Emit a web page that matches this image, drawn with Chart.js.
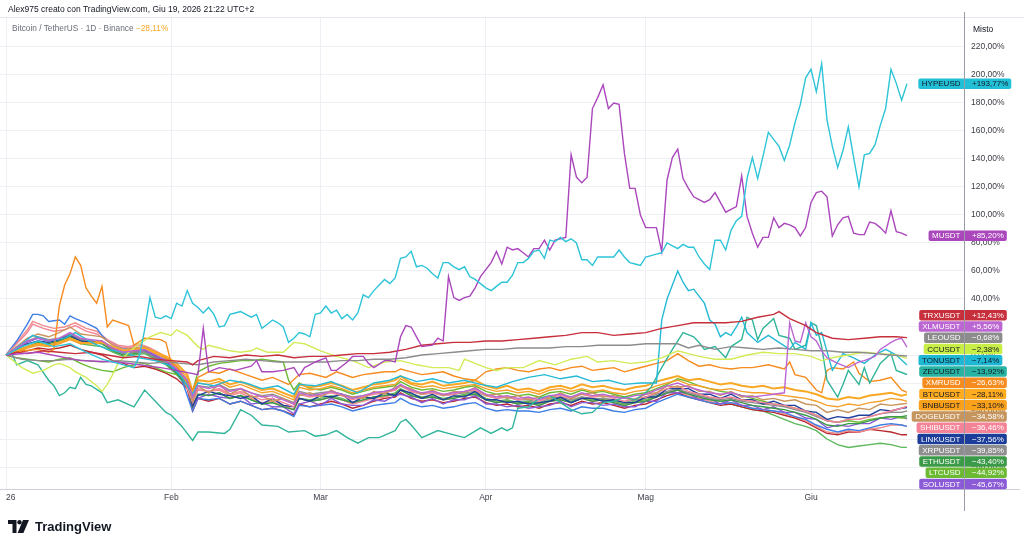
<!DOCTYPE html>
<html><head><meta charset="utf-8">
<script src="https://cdn.jsdelivr.net/npm/chart.js@4.4.1/dist/chart.umd.min.js"></script>
<style>
html,body{margin:0;padding:0;background:#fff;width:1024px;height:546px;overflow:hidden;font-family:"Liberation Sans",Arial,sans-serif;}
#wrap{position:relative;width:1024px;height:546px;}
canvas{position:absolute;left:0;top:0;}
#hdr{position:absolute;left:8px;top:4px;font-size:8.5px;line-height:10px;color:#131722;white-space:nowrap;}
#leg{position:absolute;left:12px;top:23px;font-size:8.3px;line-height:10px;color:#6a6d78;white-space:nowrap;}
#leg span{color:#f5a623;}
#logo{position:absolute;left:8px;top:519px;display:flex;align-items:center;gap:6px;font-weight:bold;font-size:13px;color:#131722;}
</style></head>
<body><div id="wrap">
<canvas id="c" width="1024" height="546"></canvas>
<div id="hdr">Alex975 creato con TradingView.com, Giu 19, 2026 21:22 UTC+2</div>
<div id="leg">Bitcoin / TetherUS · 1D · Binance <span>−28,11%</span></div>
<div id="logo"><svg width="21" height="13" viewBox="0 0 21 13"><path d="M0 0h8.5v13H4.5V4H0z" fill="#131722"/><circle cx="11.5" cy="2.2" r="2.2" fill="#131722"/><path d="M15 0h6l-5.6 13H9.6z" fill="#131722"/></svg><span>TradingView</span></div>
</div>
<script>
// time axis: day index from 1 Jan 2026
const monthDays = [0, 31, 59, 90, 120, 151];
const monthLabels = ['26', 'Feb', 'Mar', 'Apr', 'Mag', 'Giu'];
const yTicks = [-80, -60, -40, -20, 0, 20, 40, 60, 80, 100, 120, 140, 160, 180, 200, 220];

// series: [day, % change]
const HYPEUSD = [[0,0],[3,6],[6,10],[9,6],[12,8],[15,2],[18,-3],[21,-6],[24,-9],[25,-1],[26,18],[27,41],[28,27],[29,26],[30,28],[31,26],[32,37],[33,35],[34,46],[35,37],[36,34],[37,30],[38,34],[39,29],[40,20],[41,21],[42,29],[43,30],[44,31],[45,29],[46,27],[47,29],[48,19],[49,22],[50,25],[51,23],[52,20],[53,9],[54,12],[55,16],[56,15],[57,13],[58,29],[59,30],[60,35],[61,30],[62,32],[63,26],[64,29],[65,25],[66,30],[67,43],[68,41],[69,46],[70,50],[71,54],[72,51],[73,55],[74,69],[75,70],[76,74],[77,63],[78,64],[79,62],[80,58],[81,55],[82,66],[83,66],[84,63],[85,61],[86,63],[87,56],[88,54],[89,51],[90,48],[91,46],[92,49],[93,52],[94,52],[95,57],[96,66],[97,66],[98,69],[99,74],[100,75],[101,69],[102,82],[103,81],[104,84],[105,81],[106,83],[107,80],[108,68],[109,68],[110,64],[111,70],[112,70],[113,70],[114,70],[115,75],[116,70],[117,66],[118,65],[119,64],[120,70],[121,71],[122,72],[123,73],[124,80],[125,78],[126,76],[127,79],[128,77],[129,77],[130,70],[131,65],[132,61],[133,82],[134,82],[135,75],[136,89],[137,96],[138,99],[139,126],[140,141],[141,126],[142,142],[143,159],[144,154],[145,149],[146,139],[147,150],[148,166],[149,179],[150,198],[151,204],[152,188],[153,208],[154,168],[155,149],[156,134],[157,146],[158,163],[159,141],[160,120],[161,143],[162,144],[163,150],[164,164],[165,176],[166,204],[167,194],[168,182],[169,193.77]];
const MUSDT = [[0,0],[6,2],[14,-4],[21,-5],[29,-9],[32,-11],[36,-14],[37,19],[38,-12],[40,-9],[43,-11],[46,-8],[47,-4],[48,-12],[50,-12],[52,-11],[54,-9],[55,-15],[56,-9],[57,-7],[58,-5],[60,-2],[61,-11],[62,-11],[64,-5],[65,-1],[67,-1],[68,-6],[69,-9],[71,-4],[72,-4],[73,-5],[74,13],[75,21],[76,20],[77,13],[78,6],[80,7],[81,12],[82,10],[83,56],[84,41],[85,39],[86,41],[87,42],[88,48],[89,56],[91,66],[92,74],[93,65],[94,77],[95,75],[96,76],[97,73],[98,70],[99,76],[100,76],[101,82],[102,75],[103,82],[104,83],[105,84],[106,143],[107,127],[108,123],[109,127],[110,176],[111,184],[112,193],[113,176],[114,180],[115,179],[116,144],[117,119],[118,119],[119,100],[120,91],[121,91],[122,91],[123,74],[124,125],[125,141],[126,147],[127,126],[128,119],[129,113],[130,111],[131,109],[132,111],[133,116],[134,109],[135,102],[136,104],[137,106],[138,128],[139,99],[140,87],[141,77],[142,84],[143,84],[144,98],[145,91],[146,94],[147,93],[148,91],[149,85],[150,91],[151,109],[152,116],[153,117],[154,113],[155,85],[156,93],[157,98],[158,99],[159,87],[160,86],[161,86],[162,95],[163,94],[164,91],[165,87],[166,103],[167,88],[168,87],[169,85.2]];
const TRXUSDT = [[0,0],[2,2],[4,1],[7,3],[10,2],[13,1],[16,2],[19,0],[22,-2],[25,-1],[28,-3],[31,-4],[34,-5],[35,-7],[36,-4],[39,-1],[42,-2],[45,0],[48,-1],[51,0],[54,-2],[57,-1],[60,-1],[63,0],[66,1],[69,1],[72,2],[75,4],[78,7],[81,8],[84,9],[87,9],[90,10],[93,10],[96,11],[99,12],[102,13],[105,14],[108,16],[111,16],[114,14],[117,15],[120,16],[123,19],[126,21],[129,23],[132,23],[135,23],[138,24],[141,27],[144,29],[145,31],[147,26],[150,21],[152,16],[155,12],[158,11],[161,12],[164,13],[167,13],[169,12.43]];
const XLMUSDT = [[0,0],[2,5],[4,10],[6,12],[8,10],[10,12],[12,16],[14,12],[16,11],[18,10],[20,5],[22,2],[24,3],[26,4],[28,0],[30,-4],[32,-10],[34,-18],[35,-30],[36,-22],[38,-24],[40,-22],[42,-26],[44,-24],[46,-27],[48,-30],[50,-29],[52,-32],[54,-35],[55,-27],[57,-29],[59,-28],[61,-26],[63,-28],[65,-31],[67,-29],[69,-27],[71,-26],[73,-24],[74,-21],[76,-25],[78,-27],[80,-26],[82,-28],[84,-27],[86,-26],[88,-24],[90,-28],[92,-30],[94,-29],[96,-31],[98,-30],[100,-32],[102,-29],[104,-28],[106,-30],[108,-27],[110,-29],[112,-28],[114,-30],[116,-31],[118,-29],[120,-28],[122,-25],[124,-22],[126,-20],[128,-23],[130,-25],[132,-27],[134,-28],[136,-27],[138,-29],[140,-30],[142,-29],[144,-28],[146,-27],[147,23],[148,10],[149,9],[150,23],[151,13],[152,10],[153,3],[154,-2],[155,-4],[156,-6],[158,-9],[160,-5],[161,-4],[163,-1],[164,4],[166,9],[167,11],[168,12],[169,5.56]];
const LEOUSD = [[0,0],[3,-3],[6,-4],[9,-4],[12,-3],[15,-4],[18,-5],[21,-4],[24,-5],[27,-6],[30,-5],[33,-6],[36,-7],[39,-5],[42,-4],[45,-3],[48,-4],[51,-5],[54,-5],[57,-5],[60,-5],[63,-4],[66,-4],[69,-3],[72,-3],[75,-2],[78,0],[81,1],[84,2],[87,3],[90,4],[93,4],[96,5],[99,5],[102,5],[105,6],[108,6],[111,7],[114,7],[117,7],[120,8],[123,8],[126,8],[128,5],[130,7],[133,4],[136,6],[139,5],[142,4],[145,5],[148,4],[151,3],[154,3],[157,2],[160,2],[163,1],[166,0],[169,-0.68]];
const CCUSDT = [[0,0],[2,-6],[3,-9],[5,-13],[7,-11],[9,-7],[10,-6],[12,-9],[13,-12],[15,-16],[17,-22],[18,-26],[19,-21],[20,-14],[21,-6],[23,2],[25,8],[27,13],[29,16],[31,14],[32,18],[34,14],[36,6],[37,4],[38,7],[40,5],[42,3],[44,2],[46,3],[47,5],[49,2],[52,2],[54,9],[56,8],[59,3],[62,-1],[65,-4],[68,-9],[71,-5],[74,-4],[77,-7],[80,-9],[83,-9],[85,-11],[86,-3],[88,-6],[90,-9],[92,-11],[94,-9],[97,-9],[100,-4],[103,-7],[106,-3],[109,-1],[111,-5],[114,-4],[117,-6],[120,-5],[123,-2],[126,3],[128,1],[130,-1],[133,-3],[136,-3],[139,0],[142,2],[145,1],[148,1],[151,-1],[153,-4],[155,-2],[158,0],[161,2],[164,1],[167,0],[169,-2.38]];
const TONUSDT = [[0,0],[3,8],[5,14],[8,10],[11,12],[13,16],[16,9],[19,4],[22,2],[25,-2],[28,-4],[31,-8],[33,-16],[35,-28],[36,-20],[39,-22],[42,-18],[45,-20],[48,-24],[51,-22],[54,-28],[55,-21],[58,-22],[61,-19],[64,-24],[66,-27],[69,-20],[72,-18],[74,-15],[77,-19],[80,-17],[83,-20],[86,-18],[89,-21],[92,-23],[95,-19],[98,-16],[101,-14],[104,-17],[107,-15],[110,-19],[113,-18],[116,-21],[119,-20],[122,-20],[123,25],[124,40],[125,50],[126,60],[127,52],[128,46],[129,47],[131,37],[132,25],[133,22],[134,13],[135,16],[136,14],[137,20],[138,27],[139,16],[141,9],[143,14],[145,9],[147,4],[148,9],[150,4],[151,23],[152,14],[153,16],[155,-11],[157,1],[159,-2],[161,-6],[163,0],[165,4],[167,0],[169,-7.14]];
const ZECUSDT = [[0,0],[1,2],[2,-7],[4,-4],[6,-7],[8,-18],[9,-22],[10,-29],[11,-27],[12,-23],[13,-24],[14,-16],[15,-21],[16,-22],[18,-27],[19,-34],[21,-32],[24,-37],[26,-25],[28,-33],[30,-41],[31,-43],[33,-51],[35,-61],[36,-55],[38,-55],[41,-56],[42,-53],[44,-39],[46,-43],[48,-50],[51,-51],[53,-55],[56,-54],[58,-58],[60,-57],[62,-54],[64,-59],[66,-63],[68,-59],[70,-59],[73,-54],[74,-48],[75,-46],[76,-50],[78,-59],[81,-54],[84,-57],[86,-59],[89,-52],[91,-56],[93,-52],[94,-54],[95,-52],[96,-38],[98,-37],[100,-31],[102,-29],[104,-34],[106,-39],[108,-42],[110,-41],[112,-34],[114,-33],[116,-30],[118,-32],[120,-27],[121,-23],[123,-9],[125,4],[127,16],[129,13],[130,9],[131,4],[133,6],[135,-2],[136,6],[138,11],[139,27],[140,25],[141,11],[142,19],[144,26],[145,14],[147,12],[148,4],[150,7],[151,23],[152,21],[153,6],[154,-18],[156,-30],[157,-21],[158,-11],[159,-16],[160,-21],[161,-9],[162,-20],[164,-6],[166,1],[167,-11],[169,-13.92]];
const XMRUSD = [[0,0],[3,3],[6,4],[8,2],[9,4],[10,35],[11,50],[12,58],[13,70],[14,64],[15,48],[16,42],[17,37],[18,49],[19,20],[20,25],[23,21],[24,7],[26,12],[29,11],[30,9],[31,-6],[32,-8],[33,-14],[35,-25],[36,-16],[38,-12],[40,-13],[42,-10],[45,-14],[48,-18],[50,-16],[53,-21],[55,-14],[57,-13],[60,-16],[62,-12],[65,-16],[67,-14],[69,-13],[71,-12],[73,-12],[74,-10],[76,-12],[78,-14],[80,-13],[82,-12],[84,-15],[86,-17],[88,-18],[90,-12],[92,-10],[94,-9],[96,-11],[98,-12],[100,-10],[102,-9],[104,-11],[106,-9],[108,-8],[110,-11],[112,-10],[114,-9],[116,-12],[118,-10],[120,-8],[122,-6],[124,-4],[126,1],[128,-4],[130,-8],[132,-7],[134,-9],[136,-10],[138,-9],[140,-9],[143,-7],[146,-10],[147,-5],[148,-14],[150,-16],[152,-25],[153,-27],[154,-11],[155,-9],[157,-10],[159,-5],[160,-13],[162,-19],[164,-18],[166,-16],[168,-25],[169,-26.63]];
const BTCUSDT = [[0,0],[2,3],[4,6],[6,8],[8,7],[10,9],[12,12],[14,9],[16,8],[18,9],[20,6],[22,3],[24,4],[26,5],[28,2],[30,-1],[32,-6],[34,-14],[35,-26],[36,-18],[38,-19],[40,-17],[42,-21],[44,-19],[46,-22],[48,-25],[50,-24],[52,-27],[54,-30],[55,-21],[57,-23],[59,-22],[61,-20],[63,-22],[65,-25],[67,-23],[69,-21],[71,-20],[73,-18],[74,-15],[76,-20],[78,-21],[80,-19],[82,-22],[84,-21],[86,-20],[88,-18],[90,-22],[92,-24],[94,-22],[96,-25],[98,-24],[100,-26],[102,-23],[104,-22],[106,-24],[108,-21],[110,-23],[112,-22],[114,-24],[116,-25],[118,-23],[120,-22],[122,-19],[124,-17],[126,-15],[128,-18],[130,-17],[132,-19],[134,-21],[136,-20],[138,-22],[140,-23],[142,-22],[144,-24],[146,-23],[148,-25],[150,-26],[152,-28],[154,-31],[156,-32],[158,-30],[160,-31],[162,-29],[164,-28],[166,-27],[168,-29],[169,-28.11]];
const BNBUSDT = [[0,0],[2,2],[4,5],[6,7],[8,6],[10,8],[12,11],[14,8],[16,9],[18,10],[20,5],[22,2],[24,3],[26,4],[28,1],[30,-2],[32,-8],[34,-16],[35,-28],[36,-20],[38,-21],[40,-19],[42,-23],[44,-21],[46,-24],[48,-27],[50,-26],[52,-29],[54,-32],[55,-23],[57,-25],[59,-24],[61,-22],[63,-24],[65,-27],[67,-25],[69,-23],[71,-22],[73,-21],[74,-17],[76,-21],[78,-23],[80,-22],[82,-24],[84,-23],[86,-22],[88,-21],[90,-24],[92,-26],[94,-25],[96,-27],[98,-26],[100,-28],[102,-25],[104,-24],[106,-26],[108,-24],[110,-26],[112,-25],[114,-27],[116,-28],[118,-26],[120,-25],[122,-22],[124,-20],[126,-18],[128,-21],[130,-22],[132,-24],[134,-25],[136,-24],[138,-26],[140,-27],[142,-27],[144,-28],[146,-29],[148,-30],[150,-31],[152,-33],[154,-36],[156,-37],[158,-35],[160,-36],[162,-34],[164,-33],[166,-31],[168,-32],[169,-33.1]];
const DOGEUSDT = [[0,0],[2,6],[4,12],[6,15],[8,13],[10,16],[12,20],[14,15],[16,14],[18,13],[20,7],[22,4],[24,5],[26,6],[28,2],[30,-3],[32,-10],[34,-20],[35,-33],[36,-22],[38,-27],[40,-21],[42,-28],[44,-24],[46,-30],[48,-29],[50,-33],[52,-31],[54,-35],[55,-29],[57,-27],[59,-30],[61,-25],[63,-29],[65,-30],[67,-31],[69,-26],[71,-28],[73,-23],[74,-22],[76,-24],[78,-28],[80,-25],[82,-29],[84,-26],[86,-27],[88,-23],[90,-29],[92,-28],[94,-31],[96,-29],[98,-32],[100,-30],[102,-31],[104,-27],[106,-31],[108,-28],[110,-27],[112,-30],[114,-29],[116,-31],[118,-32],[120,-28],[122,-27],[124,-22],[126,-23],[128,-22],[130,-26],[132,-26],[134,-29],[136,-26],[138,-30],[140,-29],[142,-32],[144,-31],[146,-33],[148,-32],[150,-35],[152,-36],[154,-41],[156,-39],[158,-41],[160,-38],[162,-39],[164,-35],[166,-36],[168,-35],[169,-34.58]];
const SHIBUSDT = [[0,0],[2,8],[4,16],[5,22],[7,19],[9,17],[11,18],[13,21],[15,17],[17,15],[19,10],[21,6],[23,5],[25,7],[27,4],[29,0],[31,-5],[33,-14],[35,-34],[36,-25],[38,-26],[40,-24],[42,-28],[44,-26],[46,-29],[48,-32],[50,-31],[52,-34],[54,-37],[55,-28],[57,-30],[59,-29],[61,-27],[63,-29],[65,-32],[67,-30],[69,-28],[71,-27],[73,-25],[74,-22],[76,-26],[78,-28],[80,-27],[82,-29],[84,-28],[86,-26],[88,-25],[90,-29],[92,-31],[94,-30],[96,-32],[98,-31],[100,-33],[102,-30],[104,-29],[106,-31],[108,-28],[110,-30],[112,-29],[114,-31],[116,-33],[118,-31],[120,-30],[122,-27],[124,-24],[126,-22],[128,-26],[130,-28],[132,-30],[134,-31],[136,-30],[138,-32],[140,-33],[142,-34],[144,-35],[146,-36],[148,-38],[150,-40],[152,-43],[154,-47],[156,-48],[158,-46],[160,-46],[162,-44],[164,-42],[166,-40],[168,-38],[169,-36.46]];
const LINKUSDT = [[0,0],[2,4],[4,8],[6,10],[8,9],[10,11],[12,14],[14,10],[16,9],[18,10],[20,5],[22,2],[24,3],[26,4],[28,0],[30,-4],[32,-11],[34,-20],[35,-36],[36,-29],[38,-26],[40,-28],[42,-29],[44,-31],[46,-29],[48,-35],[50,-31],[52,-36],[54,-37],[55,-31],[57,-33],[59,-29],[61,-30],[63,-28],[65,-34],[67,-30],[69,-31],[71,-27],[73,-29],[74,-25],[76,-27],[78,-31],[80,-28],[82,-32],[84,-29],[86,-30],[88,-26],[90,-32],[92,-32],[94,-34],[96,-33],[98,-35],[100,-34],[102,-33],[104,-30],[106,-34],[108,-31],[110,-31],[112,-33],[114,-32],[116,-34],[118,-34],[120,-30],[122,-30],[124,-24],[126,-24],[128,-24],[130,-28],[132,-28],[134,-31],[136,-28],[138,-32],[140,-32],[142,-35],[144,-33],[146,-36],[148,-36],[150,-40],[152,-41],[154,-46],[156,-44],[158,-45],[160,-43],[162,-43],[164,-39],[166,-40],[168,-38],[169,-37.56]];
const XRPUSDT = [[0,0],[2,5],[4,10],[6,13],[8,11],[10,12],[12,15],[14,11],[16,10],[18,9],[20,4],[22,1],[24,2],[26,2],[28,-2],[30,-5],[32,-10],[34,-18],[35,-30],[36,-22],[38,-23],[40,-21],[42,-25],[44,-24],[46,-27],[48,-29],[50,-28],[52,-31],[54,-34],[55,-26],[57,-28],[59,-27],[61,-26],[63,-28],[65,-30],[67,-29],[69,-27],[71,-26],[73,-25],[74,-22],[76,-26],[78,-28],[80,-27],[82,-29],[84,-28],[86,-27],[88,-26],[90,-29],[92,-31],[94,-30],[96,-32],[98,-32],[100,-34],[102,-31],[104,-30],[106,-32],[108,-30],[110,-31],[112,-31],[114,-32],[116,-34],[118,-32],[120,-31],[122,-28],[124,-26],[126,-24],[128,-27],[130,-29],[132,-31],[134,-32],[136,-31],[138,-33],[140,-34],[142,-35],[144,-36],[146,-37],[148,-39],[150,-41],[152,-44],[154,-47],[156,-48],[158,-46],[160,-46],[162,-44],[164,-42],[166,-41],[168,-41],[169,-39.85]];
const ETHUSDT = [[0,0],[2,3],[4,6],[6,9],[8,8],[10,10],[12,13],[14,10],[16,9],[18,8],[20,3],[22,0],[24,1],[26,2],[28,-2],[30,-6],[32,-13],[34,-22],[35,-37],[36,-28],[38,-29],[40,-27],[42,-31],[44,-29],[46,-32],[48,-35],[50,-34],[52,-37],[54,-39],[55,-31],[57,-33],[59,-32],[61,-30],[63,-32],[65,-34],[67,-32],[69,-30],[71,-29],[73,-28],[74,-25],[76,-29],[78,-31],[80,-30],[82,-32],[84,-31],[86,-29],[88,-28],[90,-32],[92,-34],[94,-33],[96,-35],[98,-34],[100,-36],[102,-33],[104,-32],[106,-34],[108,-31],[110,-33],[112,-32],[114,-34],[116,-36],[118,-34],[120,-33],[122,-30],[124,-27],[126,-25],[128,-28],[130,-30],[132,-32],[134,-33],[136,-32],[138,-34],[140,-36],[142,-37],[144,-38],[146,-39],[148,-41],[150,-43],[152,-46],[154,-50],[156,-51],[158,-49],[160,-49],[162,-47],[164,-45],[166,-44],[168,-44],[169,-43.4]];
const LTCUSD = [[0,0],[2,-2],[4,-3],[6,-4],[8,-5],[10,-3],[12,-2],[14,-6],[16,-9],[18,-11],[20,-12],[22,-9],[24,-7],[26,-6],[28,-9],[30,-12],[32,-14],[34,-18],[35,-26],[36,-12],[38,-8],[40,-6],[42,-5],[44,-4],[46,-4],[48,-3],[50,-4],[52,-5],[53,-18],[54,-25],[55,-20],[57,-24],[59,-25],[61,-23],[63,-25],[65,-28],[67,-26],[69,-24],[71,-23],[73,-22],[74,-19],[76,-23],[78,-25],[80,-24],[82,-26],[84,-25],[86,-23],[88,-22],[90,-26],[92,-28],[94,-27],[96,-29],[98,-28],[100,-30],[102,-27],[104,-26],[106,-28],[108,-25],[110,-27],[112,-26],[114,-28],[116,-30],[118,-28],[120,-27],[122,-24],[124,-21],[126,-17],[128,-19],[130,-22],[132,-24],[134,-26],[136,-27],[138,-29],[140,-31],[142,-33],[144,-35],[146,-36],[148,-38],[150,-40],[152,-43],[154,-47],[156,-48],[158,-47],[160,-48],[162,-46],[164,-45],[166,-44],[168,-45],[169,-44.92]];
const SOLUSDT = [[0,0],[2,4],[4,9],[6,12],[8,10],[10,11],[12,15],[14,11],[16,10],[18,9],[20,4],[22,1],[24,2],[26,3],[28,-1],[30,-5],[32,-12],[34,-22],[35,-38],[36,-31],[38,-28],[40,-30],[42,-31],[44,-29],[46,-35],[48,-34],[50,-37],[52,-37],[54,-42],[55,-35],[57,-33],[59,-36],[61,-31],[63,-35],[65,-36],[67,-36],[69,-32],[71,-33],[73,-29],[74,-28],[76,-30],[78,-34],[80,-31],[82,-35],[84,-32],[86,-32],[88,-29],[90,-35],[92,-35],[94,-37],[96,-36],[98,-38],[100,-37],[102,-36],[104,-33],[106,-37],[108,-34],[110,-34],[112,-36],[114,-35],[116,-37],[118,-37],[120,-33],[122,-33],[124,-27],[126,-27],[128,-27],[130,-32],[132,-31],[134,-35],[136,-32],[138,-36],[140,-36],[142,-39],[144,-37],[146,-41],[148,-41],[150,-45],[152,-46],[154,-52],[156,-50],[158,-51],[160,-49],[162,-49],[164,-45],[166,-46],[168,-44],[169,-45.67]];
// compared series whose labels fall below the visible pane
const EXTRA_BLUE = [[0,0],[2,10],[4,22],[5,29],[6,29],[7,28],[8,24],[10,25],[11,22],[12,28],[13,26],[15,23],[17,19],[18,14],[19,10],[21,6],[23,4],[25,5],[27,1],[29,-3],[31,-8],[33,-18],[35,-40],[36,-31],[38,-32],[40,-31],[42,-35],[44,-33],[46,-36],[48,-39],[50,-38],[52,-40],[54,-44],[55,-36],[57,-37],[59,-36],[61,-35],[63,-37],[65,-40],[67,-38],[69,-36],[71,-35],[73,-34],[74,-31],[76,-35],[78,-37],[80,-36],[82,-38],[84,-37],[86,-35],[88,-34],[90,-38],[92,-40],[94,-39],[96,-40],[98,-40],[100,-41],[102,-39],[104,-38],[106,-40],[108,-37],[110,-38],[112,-38],[114,-40],[116,-41],[118,-39],[120,-38],[122,-34],[124,-31],[126,-28],[128,-30],[130,-32],[132,-34],[134,-35],[136,-34],[138,-36],[140,-38],[142,-39],[144,-40],[146,-41],[148,-44],[150,-46],[152,-50],[154,-53],[156,-55],[158,-53],[160,-54],[162,-52],[164,-50],[166,-49],[168,-50],[169,-51]];
const EXTRA_PINK = [[0,0],[2,9],[4,18],[5,24],[7,21],[9,19],[11,20],[13,23],[15,19],[17,17],[19,11],[21,7],[23,6],[25,8],[27,5],[29,1],[31,-4],[33,-13],[35,-33],[36,-24],[38,-26],[40,-25],[42,-29],[44,-27],[46,-31],[48,-34],[50,-33],[52,-36],[54,-39],[55,-31],[57,-33],[59,-32],[61,-30],[63,-32],[65,-35],[67,-33],[69,-31],[71,-30],[73,-28],[74,-25],[76,-29],[78,-31],[80,-30],[82,-32],[84,-31],[86,-29],[88,-28],[90,-32],[92,-34],[94,-33],[96,-35],[98,-34],[100,-36],[102,-33],[104,-32],[106,-34],[108,-31],[110,-33],[112,-32],[114,-34],[116,-36],[118,-34],[120,-33],[122,-30],[124,-27],[126,-25],[128,-29],[130,-31],[132,-33],[134,-35],[136,-34],[138,-36],[140,-38],[142,-39],[144,-40],[146,-42],[148,-44],[150,-47],[152,-51],[154,-55],[156,-56],[158,-54],[160,-55],[162,-53],[164,-52],[166,-50],[168,-50],[169,-51]];
const EXTRA_RED = [[0,0],[2,2],[4,3],[6,5],[8,4],[10,5],[12,7],[14,4],[16,2],[18,0],[20,-4],[22,-6],[24,-9],[26,-8],[28,-10],[30,-13],[32,-17],[34,-24],[35,-40],[36,-31],[38,-33],[40,-31],[42,-35],[44,-33],[46,-36],[48,-39],[50,-38],[52,-40],[54,-43],[55,-35],[57,-37],[59,-35],[61,-33],[63,-35],[65,-38],[67,-36],[69,-33],[71,-31],[73,-30],[74,-27],[76,-31],[78,-33],[80,-32],[82,-34],[84,-33],[86,-31],[88,-30],[90,-34],[92,-36],[94,-35],[96,-37],[98,-36],[100,-38],[102,-35],[104,-34],[106,-36],[108,-33],[110,-35],[112,-34],[114,-36],[116,-38],[118,-36],[120,-35],[122,-32],[124,-29],[126,-27],[128,-30],[130,-32],[132,-34],[134,-36],[136,-35],[138,-37],[140,-39],[142,-40],[144,-41],[146,-43],[148,-45],[150,-48],[152,-52],[154,-56],[156,-57],[158,-55],[160,-55],[162,-53],[164,-54],[166,-55],[168,-57],[169,-57]];
const EXTRA_GREEN = [[0,0],[2,3],[4,6],[6,8],[8,7],[10,9],[12,12],[14,8],[16,7],[18,6],[20,2],[22,-1],[24,0],[26,1],[28,-3],[30,-7],[32,-14],[34,-23],[35,-36],[36,-28],[38,-29],[40,-27],[42,-31],[44,-29],[46,-32],[48,-35],[50,-34],[52,-36],[54,-39],[55,-31],[57,-32],[59,-31],[61,-29],[63,-31],[65,-34],[67,-32],[69,-30],[71,-29],[73,-27],[74,-24],[76,-28],[78,-30],[80,-29],[82,-31],[84,-30],[86,-28],[88,-27],[90,-31],[92,-33],[94,-32],[96,-34],[98,-33],[100,-35],[102,-32],[104,-31],[106,-33],[108,-30],[110,-32],[112,-31],[114,-33],[116,-35],[118,-33],[120,-32],[122,-29],[124,-27],[126,-25],[128,-27],[130,-29],[132,-31],[134,-33],[136,-35],[138,-37],[140,-39],[142,-40],[144,-43],[146,-46],[148,-49],[150,-51],[152,-54],[154,-60],[156,-64],[158,-66],[160,-65],[162,-64],[164,-63],[166,-64],[168,-66],[169,-66]];

const FONT = '"Liberation Sans", Arial, sans-serif';
const series = [
  {name:'HYPEUSD', data:HYPEUSD, color:'#2ec4d8', tag:'#22c0d7', text:'#131722'},
  {name:'MUSDT', data:MUSDT, color:'#ab47bc', tag:'#ab47bc', text:'#ffffff'},
  {name:'TRXUSDT', data:TRXUSDT, color:'#c62f3b', tag:'#c62f3b', text:'#ffffff'},
  {name:'XLMUSDT', data:XLMUSDT, color:'#bb66d2', tag:'#bb66d2', text:'#ffffff'},
  {name:'LEOUSD', data:LEOUSD, color:'#8c8c8c', tag:'#8c8c8c', text:'#ffffff'},
  {name:'CCUSDT', data:CCUSDT, color:'#d2ec58', tag:'#c9ee48', text:'#131722'},
  {name:'TONUSDT', data:TONUSDT, color:'#26b9d6', tag:'#1fb8d4', text:'#131722'},
  {name:'ZECUSDT', data:ZECUSDT, color:'#31b59a', tag:'#28b3a2', text:'#131722'},
  {name:'XMRUSD', data:XMRUSD, color:'#f68b1f', tag:'#f68b1f', text:'#ffffff'},
  {name:'BTCUSDT', data:BTCUSDT, color:'#f9a825', tag:'#ffac20', text:'#131722', w:2},
  {name:'BNBUSDT', data:BNBUSDT, color:'#f4a02a', tag:'#f9a11b', text:'#131722'},
  {name:'DOGEUSDT', data:DOGEUSDT, color:'#c8955d', tag:'#c5955d', text:'#ffffff'},
  {name:'SHIBUSDT', data:SHIBUSDT, color:'#f58597', tag:'#f58397', text:'#ffffff'},
  {name:'LINKUSDT', data:LINKUSDT, color:'#1f3f9d', tag:'#1b3c98', text:'#ffffff'},
  {name:'XRPUSDT', data:XRPUSDT, color:'#8e8e8e', tag:'#8e8e8e', text:'#ffffff'},
  {name:'ETHUSDT', data:ETHUSDT, color:'#3a9a48', tag:'#3a9a48', text:'#ffffff'},
  {name:'LTCUSD', data:LTCUSD, color:'#6cba33', tag:'#6cba33', text:'#ffffff'},
  {name:'SOLUSDT', data:SOLUSDT, color:'#8b5ad6', tag:'#8b5ad6', text:'#ffffff'},
  {name:'', data:EXTRA_BLUE, color:'#3d7fe6'},
  {name:'', data:EXTRA_PINK, color:'#f08c8c'},
  {name:'', data:EXTRA_RED, color:'#b8282e'},
  {name:'', data:EXTRA_GREEN, color:'#5cb85c'}
];

function fmtTick(v){ return (v < 0 ? '−' : '') + Math.abs(v).toFixed(2).replace('.', ',') + '%'; }
function fmtTag(v){ return (v < 0 ? '−' : '+') + Math.abs(v).toFixed(2).replace('.', ',') + '%'; }

const framePlugin = {
  id:'frame',
  beforeDraw(chart){
    const c = chart.ctx; c.save(); c.fillStyle = '#ffffff'; c.fillRect(0,0,chart.width,chart.height); c.restore();
  },
  afterDraw(chart){
    const c = chart.ctx, ca = chart.chartArea, y = chart.scales.y;
    c.save();
    c.strokeStyle = '#e3e6ec'; c.lineWidth = 1;
    c.beginPath(); c.moveTo(0, ca.top + 0.5); c.lineTo(chart.width, ca.top + 0.5); c.stroke();
    c.strokeStyle = '#cfd2da';
    c.beginPath(); c.moveTo(0, ca.bottom + 0.5); c.lineTo(chart.width - 4, ca.bottom + 0.5); c.stroke();
    c.strokeStyle = '#9a9da6';
    c.beginPath(); c.moveTo(Math.round(ca.right) + 0.5, 12); c.lineTo(Math.round(ca.right) + 0.5, ca.bottom + 22); c.stroke();
    c.fillStyle = '#131722'; c.font = '8.5px ' + FONT; c.textBaseline = 'middle'; c.textAlign = 'left';
    c.fillText('Misto', ca.right + 9, 30);

    const items = [];
    chart.data.datasets.forEach(ds => {
      if (!ds.tagName) return;
      const last = ds.data[ds.data.length - 1];
      items.push({ds, v:last.y, iy:y.getPixelForValue(last.y)});
    });
    items.sort((a, b) => a.iy - b.iy);
    const step = 11.25, h = 10.4;
    items.forEach((it, i) => { it.py = i ? Math.max(it.iy, items[i-1].py + step) : it.iy; });
    const maxY = ca.bottom - 5;
    for (let i = items.length - 1; i >= 0; i--) {
      const lim = (i === items.length - 1) ? maxY : items[i+1].py - step;
      if (items[i].py > lim) items[i].py = lim;
    }
    c.font = '8px ' + FONT;
    const axisX = Math.round(ca.right);
    items.forEach(it => {
      const ds = it.ds;
      const nw = c.measureText(ds.tagName).width;
      const vt = fmtTag(it.v);
      const vw = c.measureText(vt).width;
      const top = it.py - h / 2;
      c.fillStyle = ds.tagColor;
      c.beginPath(); c.roundRect(axisX - nw - 7, top, nw + 7, h, [2, 0, 0, 2]); c.fill();
      c.beginPath(); c.roundRect(axisX + 1, top, vw + 10, h, [0, 2, 2, 0]); c.fill();
      c.fillStyle = ds.tagText;
      c.textAlign = 'left'; c.textBaseline = 'middle';
      c.fillText(ds.tagName, axisX - nw - 3.5, it.py + 0.5);
      c.fillText(vt, axisX + 8, it.py + 0.5);
    });
    c.restore();
  }
};

const datasets = series.map(s => ({
  label: s.name || 'n/d',
  data: s.data.map(p => ({x:p[0], y:p[1]})),
  borderColor: s.color,
  backgroundColor: s.color,
  borderWidth: s.w || 1.4,
  pointRadius: 0,
  tension: 0,
  fill: false,
  tagName: s.tag ? s.name : null,
  tagColor: s.tag,
  tagText: s.text
}));

new Chart(document.getElementById('c'), {
  type: 'line',
  data: {datasets},
  plugins: [framePlugin],
  options: {
    responsive: false, animation: false, devicePixelRatio: 1,
    layout: {padding: {top: 17, left: 0, right: 0, bottom: 0}, autoPadding: false},
    plugins: {legend: {display: false}, tooltip: {enabled: false}},
    scales: {
      x: {
        type: 'linear', min: -1.13, max: 179.7,
        afterBuildTicks(s){ s.ticks = monthDays.map(v => ({value: v})).concat([{value: 179.7}]); },
        afterFit(s){ s.height = 57; },
        grid: {color: ctx => (ctx.index < monthDays.length ? '#eceff4' : 'rgba(0,0,0,0)'), drawTicks: false},
        border: {display: false},
        ticks: {align: 'inner', padding: 4, autoSkip: false, maxRotation: 0, color: '#3d4049',
          font: {size: 8.5, family: FONT},
          callback: (v, i) => (i < monthLabels.length ? monthLabels[i] : '')}
      },
      y: {
        type: 'linear', position: 'right', min: -95.7, max: 241.4,
        afterBuildTicks(s){ s.ticks = yTicks.map(v => ({value: v})); },
        afterFit(s){ s.width = 60; },
        grid: {color: '#eef0f4', drawTicks: false},
        border: {display: false},
        ticks: {padding: 7, color: '#3d4049', font: {size: 8.5, family: FONT}, callback: v => fmtTick(v)}
      }
    }
  }
});
</script>
</body></html>
